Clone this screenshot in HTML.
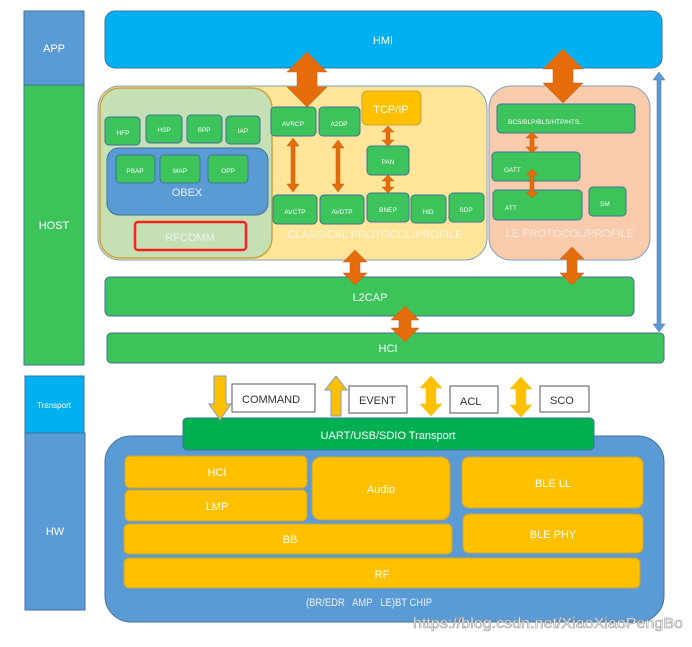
<!DOCTYPE html>
<html><head><meta charset="utf-8"><style>
html,body{margin:0;padding:0;background:#fff;}
svg text{font-family:"Liberation Sans",sans-serif;}
</style></head><body>
<svg width="692" height="642" viewBox="0 0 692 642" xmlns="http://www.w3.org/2000/svg">
<!-- left column -->
<rect x="24" y="11" width="60" height="74" fill="#5b9bd5" stroke="#41719c" stroke-width="1"/>
<text x="54" y="52" font-size="11" fill="#fff" text-anchor="middle">APP</text>
<rect x="24" y="85" width="60" height="280" fill="#3cc35a" stroke="#41719c" stroke-width="1"/>
<text x="54" y="229" font-size="11" fill="#fff" text-anchor="middle">HOST</text>
<rect x="25" y="376" width="59" height="57" fill="#00b0f0" stroke="#41719c" stroke-width="1"/>
<text x="54" y="408" font-size="8" fill="#fff" text-anchor="middle">Transport</text>
<rect x="25" y="433" width="60" height="177" fill="#5b9bd5" stroke="#41719c" stroke-width="1"/>
<text x="55" y="535" font-size="11" fill="#fff" text-anchor="middle">HW</text>

<!-- HMI -->
<rect x="105" y="11" width="557" height="57" rx="10" fill="#00b0f0" stroke="#41719c"/>
<text x="383" y="44" font-size="11" fill="#fff" text-anchor="middle">HMI</text>

<!-- classic box -->
<rect x="98" y="86" width="389" height="174" rx="22" fill="#ffe599" stroke="#7f9fc0"/>
<rect x="100" y="88" width="172" height="170" rx="20" fill="#c5e0b4" stroke="#c9a33a" stroke-width="1.5"/>
<text x="375" y="238" font-size="11" fill="#fff6dc" text-anchor="middle">CLASSICAL PROTOCOL/PROFILE</text>
<g fill="#3cc35a" stroke="#41719c" stroke-width="1">
<rect x="105" y="117" width="35" height="28" rx="4"/>
<rect x="146" y="115" width="36" height="28" rx="4"/>
<rect x="187" y="115" width="35" height="28" rx="4"/>
<rect x="226" y="116" width="34" height="28" rx="4"/>
</g>
<rect x="107" y="148" width="161" height="67" rx="12" fill="#5b9bd5" stroke="#41719c"/>
<g fill="#3cc35a" stroke="#41719c" stroke-width="1">
<rect x="116" y="155" width="39" height="28" rx="4"/>
<rect x="160" y="155" width="40" height="28" rx="4"/>
<rect x="208" y="155" width="40" height="28" rx="4"/>
</g>
<text x="187" y="196" font-size="11" fill="#e8f0fa" text-anchor="middle">OBEX</text>
<rect x="135" y="222" width="111" height="28" rx="3" fill="#c5e0b4" stroke="#ff2020" stroke-width="2.5"/>
<text x="190" y="241" font-size="11" fill="#f0f0f0" text-anchor="middle">RFCOMM</text>
<g font-size="6.5" fill="#fff" text-anchor="middle">
<text x="123" y="135">HFP</text><text x="164" y="132">HSP</text><text x="204" y="132">SPP</text><text x="243" y="133">IAP</text>
<text x="135" y="173">PBAP</text><text x="180" y="173">MAP</text><text x="228" y="173">OPP</text>
</g>
<g fill="#3cc35a" stroke="#41719c" stroke-width="1">
<rect x="271" y="107" width="45" height="29" rx="4"/>
<rect x="319" y="107" width="41" height="29" rx="4"/>
<rect x="367" y="146" width="42" height="29" rx="4"/>
<rect x="273" y="195" width="44" height="29" rx="4"/>
<rect x="320" y="195" width="44" height="29" rx="4"/>
<rect x="367" y="193" width="42" height="29" rx="4"/>
<rect x="411" y="195" width="35" height="28" rx="4"/>
<rect x="449" y="193" width="35" height="29" rx="4"/>
</g>
<rect x="362" y="91" width="59" height="34" rx="5" fill="#ffc000" stroke="#c9a33a"/>
<text x="391" y="113" font-size="11" fill="#fff" text-anchor="middle">TCP/IP</text>
<g font-size="6.5" fill="#fff" text-anchor="middle">
<text x="293" y="126">AVRCP</text><text x="339" y="126">A2DP</text><text x="388" y="164">PAN</text>
<text x="295" y="214">AVCTP</text><text x="342" y="214">AVDTP</text><text x="388" y="212">BNEP</text>
<text x="428" y="214">HID</text><text x="466" y="212">SDP</text>
</g>

<!-- LE box -->
<rect x="489" y="86" width="161" height="174" rx="22" fill="#f8cbad" stroke="#7f9fc0"/>
<g fill="#3cc35a" stroke="#41719c" stroke-width="1">
<rect x="497" y="104" width="138" height="29" rx="4"/>
<rect x="492" y="152" width="88" height="29" rx="4"/>
<rect x="493" y="190" width="89" height="30" rx="4"/>
<rect x="589" y="187" width="37" height="29" rx="4"/>
</g>
<g font-size="6.5" fill="#fff">
<text x="508" y="124">BCS/BLP/BLS/HTP/HTS..</text>
<text x="504" y="172">GATT</text><text x="505" y="210">ATT</text><text x="600" y="206">SM</text>
</g>
<text x="570" y="237" font-size="11" fill="#fde9dc" text-anchor="middle">LE PROTOCOL/PROFILE</text>

<!-- L2CAP, HCI -->
<rect x="105" y="277" width="529" height="39" rx="5" fill="#3cc35a" stroke="#41719c"/>
<text x="370" y="301" font-size="11" fill="#fff" text-anchor="middle">L2CAP</text>
<rect x="107" y="333" width="557" height="30" rx="4" fill="#3cc35a" stroke="#41719c"/>
<text x="388" y="352" font-size="11" fill="#fff" text-anchor="middle">HCI</text>

<!-- blue vertical arrow -->
<polygon points="659,72 665,80 661,80 661,324 665,324 659,332 653,324 657,324 657,80 653,80" fill="#5b9bd5" stroke="#41719c" stroke-width="0.5"/>

<!-- orange arrows -->
<g fill="#e46c0a" stroke="#c55a11" stroke-width="0.5">
<polygon points="307,52 327,72 317,72 317,87 327,87 307,107 287,87 297,87 297,72 287,72"/>
<polygon points="563,49 583,69 573,69 573,83 583,83 563,103 543,83 553,83 553,69 543,69"/>
<polygon points="355,250 367,262 360,262 360,273 367,273 355,285 343,273 350,273 350,262 343,262"/>
<polygon points="572,247 584,259 577,259 577,273 584,273 572,285 560,273 567,273 567,259 560,259"/>
<polygon points="405,306 419,320 411,320 411,328 419,328 405,342 391,328 399,328 399,320 391,320"/>
<polygon points="293,138 299,146 295,146 295,184 299,184 293,192 287,184 291,184 291,146 287,146"/>
<polygon points="338,140 344,148 340,148 340,184 344,184 338,192 332,184 336,184 336,148 332,148"/>
<polygon points="388,126 394,132 390,132 390,140 394,140 388,146 382,140 386,140 386,132 382,132"/>
<polygon points="388,175 394,181 390,181 390,187 394,187 388,193 382,187 386,187 386,181 382,181"/>
<polygon points="532,132 538,138 534,138 534,147 538,147 532,153 526,147 530,147 530,138 526,138"/>
<polygon points="532,169 538,175 534,175 534,192 538,192 532,198 526,192 530,192 530,175 526,175"/>
</g>

<!-- HW box -->
<rect x="105" y="436" width="559" height="186" rx="26" fill="#5b9bd5" stroke="#41719c"/>
<rect x="183" y="418" width="411" height="32" rx="4" fill="#00b050" stroke="#41719c"/>
<text x="388" y="439" font-size="11" fill="#fff" text-anchor="middle">UART/USB/SDIO Transport</text>
<g fill="#ffc000" stroke="#c9a33a" stroke-width="1">
<rect x="125" y="456" width="182" height="32" rx="5"/>
<rect x="125" y="490" width="182" height="31" rx="5"/>
<rect x="312" y="457" width="138" height="63" rx="9"/>
<rect x="462" y="457" width="181" height="51" rx="7"/>
<rect x="463" y="514" width="180" height="39" rx="6"/>
<rect x="124" y="524" width="328" height="30" rx="5"/>
<rect x="124" y="558" width="516" height="30" rx="5"/>
</g>
<g font-size="11" fill="#fff" text-anchor="middle">
<text x="217" y="476">HCI</text><text x="217" y="510">LMP</text><text x="381" y="493">Audio</text>
<text x="553" y="487">BLE LL</text><text x="553" y="538">BLE PHY</text>
<text x="290" y="543">BB</text><text x="382" y="578">RF</text>
</g>
<text x="306" y="606" font-size="11" fill="#e8f0fa" textLength="126" lengthAdjust="spacingAndGlyphs" xml:space="preserve">(BR/EDR   AMP   LE)BT CHIP</text>
<text x="413" y="628" font-size="15" fill="#fff" stroke="#999" stroke-width="0.6" textLength="270" lengthAdjust="spacingAndGlyphs">https://blog.csdn.net/XiaoXiaoPengBo</text>

<!-- transport arrows -->
<g fill="#ffc000" stroke="#7f9fc0" stroke-width="1">
<polygon points="214,376 226,376 226,404 231,404 220,420 209,404 214,404"/>
<polygon points="336,376 347,390 341,390 341,416 331,416 331,390 325,390"/>
</g>
<g fill="#ffc000" stroke="#ffc000" stroke-width="0.5">
<polygon points="431,376 442,388 436,388 436,404 442,404 431,416 420,404 426,404 426,388 420,388"/>
<polygon points="521,377 532,389 526,389 526,405 532,405 521,417 510,405 516,405 516,389 510,389"/>
</g>
<g fill="#fff" stroke="#555" stroke-width="1">
<rect x="232" y="384" width="83" height="28"/>
<rect x="349" y="386" width="58" height="27"/>
<rect x="450" y="386" width="48" height="27"/>
<rect x="540" y="386" width="49" height="26"/>
</g>
<g font-size="11" fill="#333">
<text x="242" y="403">COMMAND</text><text x="359" y="404">EVENT</text>
<text x="460" y="405">ACL</text><text x="550" y="404">SCO</text>
</g>
</svg>
</body></html>
